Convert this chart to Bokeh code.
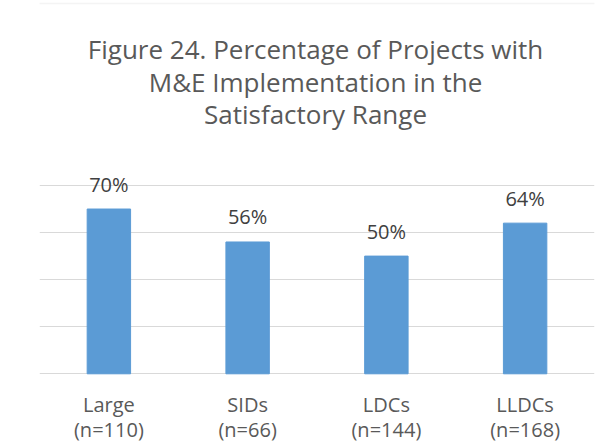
from bokeh.plotting import figure
from bokeh.models import Range1d, FixedTicker, BoxAnnotation
from bokeh.core.properties import value
from bokeh.embed import file_html
from bokeh.resources import INLINE

# ---- data ----
title_lines = ["Figure 24. Percentage of Projects with",
               "M&E Implementation in the",
               "Satisfactory Range"]
categories = ["Large", "SIDs", "LDCs", "LLDCs"]
sample_sizes = [110, 66, 144, 168]
percentages = [70, 56, 50, 64]
grid_ticks = [0, 20, 40, 60, 80]

# ---- layout constants (pixels) ----
W, H = 616, 447
FRAME_L, FRAME_R = 39, 594
Y0_PX = 373.3
PX_PER_UNIT = 2.354
FONT = "Open Sans"


def y_data(py):
    return (Y0_PX - py) / PX_PER_UNIT


def x_data(px):
    return (px - FRAME_L) / ((FRAME_R - FRAME_L) / len(categories))


p = figure(width=W, height=H, x_range=categories,
           y_range=Range1d(y_data(H), y_data(0)),
           output_backend="svg", toolbar_location=None,
           title_location=None,
           min_border_left=FRAME_L, min_border_right=W - FRAME_R,
           min_border_top=0, min_border_bottom=0)
p.axis.visible = False
p.xgrid.visible = False
p.ygrid.ticker = FixedTicker(ticks=grid_ticks)
p.ygrid.grid_line_color = "#D9D9D9"
p.ygrid.grid_line_width = 1
p.outline_line_color = None
p.background_fill_color = "white"
p.border_fill_color = "white"

# chart border decoration (top edge)
p.add_layout(BoxAnnotation(left=x_data(10), right=x_data(700),
                           top=y_data(3), bottom=y_data(520),
                           fill_alpha=0, line_color="#D9D9D9", line_width=1.5))

p.vbar(x=categories, top=percentages, width=0.313,
       fill_color="#5B9BD5", line_color="#5B9BD5")

p.text(x=categories, y=percentages, text=[f"{v}%" for v in percentages],
       y_offset=-25, text_align="center", text_baseline="alphabetic",
       text_font=value(FONT), text_font_size="20px", text_color="#404040")

p.text(x=categories, y=[y_data(404)] * len(categories), text=categories,
       text_align="center", text_baseline="alphabetic",
       text_font=value(FONT), text_font_size="20px", text_color="#595959")
p.text(x=categories, y=[y_data(429)] * len(categories),
       text=[f"(n={n})" for n in sample_sizes],
       text_align="center", text_baseline="alphabetic",
       text_font=value(FONT), text_font_size="20px", text_color="#595959")

p.text(x=[x_data(315)] * len(title_lines),
       y=[y_data(48), y_data(81), y_data(113)], text=title_lines,
       text_align="center", text_baseline="alphabetic",
       text_font=value(FONT), text_font_size="26px", text_color="#595959")

open("out.html", "w").write(file_html(p, INLINE))
